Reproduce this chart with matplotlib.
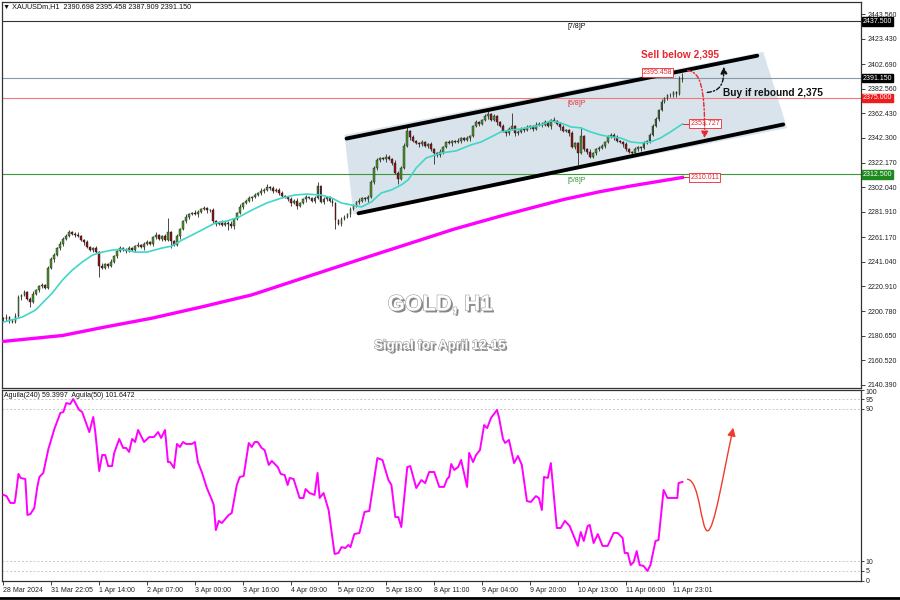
import matplotlib
matplotlib.use('Agg')
import matplotlib.pyplot as plt
from matplotlib.path import Path
from matplotlib.patches import FancyArrowPatch, Polygon
import matplotlib.patheffects as pe

plt.rcParams['font.family'] = ['Liberation Sans', 'DejaVu Sans']

# ---- data ----
first_open = 2195.0
closes = [
    2194, 2196, 2193, 2192, 2197, 2212, 2214, 2216, 2211, 2208,
    2215, 2218, 2221, 2222, 2220, 2236, 2243, 2247, 2252, 2256,
    2260, 2262, 2265, 2264, 2263, 2262, 2259, 2257, 2253, 2251,
    2252, 2249, 2238, 2236, 2239, 2238, 2241, 2246, 2250, 2252,
    2251, 2250, 2252, 2251, 2254, 2255, 2253, 2256, 2257, 2256,
    2261, 2263, 2260, 2262, 2259, 2265, 2258, 2255, 2262, 2268,
    2274, 2278, 2280, 2281, 2280, 2282, 2284, 2285, 2283, 2283,
    2274, 2272, 2273, 2271, 2273, 2272, 2270, 2276, 2281, 2286,
    2289, 2291, 2293, 2294, 2296, 2297, 2299, 2300, 2302, 2301,
    2299, 2300, 2297, 2295, 2294, 2292, 2289, 2291, 2287, 2289,
    2292, 2294, 2293, 2291, 2293, 2303, 2290, 2292, 2294, 2291,
    2289, 2275, 2272, 2276, 2278, 2280, 2284, 2287, 2290, 2291,
    2293, 2292, 2294, 2306, 2318, 2324, 2326, 2325, 2327, 2325,
    2322, 2314, 2309, 2318, 2336, 2348, 2343, 2340, 2338, 2337,
    2339, 2336, 2337, 2333, 2330, 2328, 2331, 2335, 2339, 2338,
    2340, 2339, 2340, 2342, 2341, 2342, 2344, 2352, 2355, 2354,
    2357, 2360, 2362, 2357, 2360, 2355, 2352, 2348, 2346, 2350,
    2352, 2346, 2347, 2350, 2349, 2351, 2352, 2350, 2353, 2354,
    2353, 2355, 2352, 2357, 2356, 2354, 2351, 2348, 2349, 2346,
    2335, 2338, 2330, 2344, 2333, 2331, 2327, 2330, 2333, 2334,
    2336, 2339, 2343, 2345, 2343, 2340, 2339, 2337, 2333, 2331,
    2330, 2333, 2335, 2334, 2338, 2340, 2345, 2352, 2358, 2365,
    2372, 2375, 2377, 2377, 2380, 2378, 2390.698, 2391.15,
]
wick_up = [
    1, 2, 1, 1, 2, 2, 1, 2, 1, 1, 2, 1, 1, 2, 1, 2, 2, 1, 1, 2,
    1, 2, 2, 1, 1, 2, 1, 1, 2, 1, 1, 2, 1, 2, 1, 1, 2, 1, 1, 2,
    1, 1, 2, 1, 1, 2, 1, 1, 2, 1, 1, 2, 1, 1, 2, 12, 1, 1, 2, 1,
    1, 2, 1, 1, 2, 1, 1, 2, 1, 1, 2, 1, 1, 2, 1, 1, 2, 1, 1, 2,
    1, 1, 2, 1, 1, 1, 2, 1, 3, 1, 2, 1, 1, 2, 1, 1, 2, 1, 2, 1,
    1, 2, 1, 1, 2, 3, 1, 2, 1, 1, 2, 1, 1, 2, 1, 1, 2, 1, 1, 2,
    1, 1, 2, 2, 1, 2, 1, 1, 2, 1, 1, 2, 1, 1, 2, 3, 1, 2, 1, 1,
    2, 1, 1, 2, 1, 1, 2, 1, 1, 2, 1, 1, 2, 1, 1, 2, 1, 1, 2, 1,
    1, 2, 3, 1, 2, 1, 1, 2, 1, 1, 11, 1, 2, 1, 1, 2, 1, 1, 2, 1,
    1, 2, 1, 1, 2, 1, 1, 2, 1, 1, 2, 1, 1, 7, 1, 1, 2, 1, 1, 2,
    1, 1, 2, 1, 1, 2, 1, 1, 2, 1, 1, 2, 1, 1, 2, 1, 1, 2, 1, 1,
    2, 1, 1, 2, 1, 1, 2, 4.31,
]
wick_dn = [
    1, 1, 2, 1, 1, 1, 2, 1, 1, 4, 1, 1, 2, 1, 1, 1, 1, 2, 1, 1,
    2, 1, 1, 1, 2, 1, 1, 2, 1, 1, 2, 1, 9, 1, 1, 2, 1, 1, 2, 1,
    1, 2, 1, 1, 2, 1, 1, 2, 1, 1, 2, 1, 1, 2, 1, 1, 6, 1, 1, 2,
    1, 1, 2, 1, 1, 2, 1, 1, 2, 1, 1, 2, 1, 1, 1, 5, 1, 2, 1, 1,
    2, 1, 1, 2, 1, 1, 1, 2, 1, 1, 2, 1, 1, 2, 1, 1, 2, 1, 3, 1,
    1, 2, 1, 1, 2, 1, 1, 2, 1, 1, 2, 7, 1, 2, 1, 1, 2, 1, 1, 2,
    1, 1, 2, 1, 1, 2, 1, 1, 2, 1, 2, 1, 4, 1, 1, 1, 2, 1, 1, 2,
    1, 1, 2, 1, 9, 1, 1, 2, 1, 1, 2, 1, 1, 2, 1, 1, 2, 1, 1, 2,
    1, 1, 2, 1, 1, 2, 1, 1, 2, 1, 1, 2, 1, 1, 2, 1, 1, 2, 1, 1,
    2, 1, 1, 2, 1, 1, 2, 1, 1, 2, 1, 2, 10, 1, 1, 2, 1, 1, 2, 1,
    1, 2, 1, 1, 2, 1, 1, 2, 1, 1, 2, 1, 1, 2, 1, 1, 2, 1, 1, 2,
    1, 1, 2, 1, 1, 2, 1, 2.79,
]

# moving averages (bar index, price)
ma_fast_x = [0, 6.3, 10.7, 13, 16.3, 19.7, 23, 26.3, 29.7, 33, 36.3, 39.7, 44, 48, 53, 56.3,
             59.7, 63, 66.3, 70.7, 74.7, 78.7, 83, 88, 93, 97.3, 101.3, 106.3, 109.7, 113,
             116.3, 119.7, 123, 126.3, 129.7, 133, 135.3, 138, 141.3, 146.3, 151.3, 156.3,
             159.7, 163, 166.3, 169.7, 173, 176.3, 179.7, 183, 186.3, 189.7, 193, 196.3,
             199.7, 203, 206.3, 209.7, 213, 216.3, 219.7, 223, 227]
ma_fast_v = [2191.8, 2195.9, 2201.6, 2207.3, 2215.5, 2226.1, 2234.3, 2240.8, 2246.5, 2249.0,
             2250.6, 2251.4, 2249.0, 2249.0, 2252.3, 2253.9, 2258.8, 2262.9, 2267.0, 2272.7,
             2274.4, 2277.6, 2283.3, 2289.1, 2293.2, 2295.6, 2296.4, 2295.6, 2293.2, 2289.1,
             2287.5, 2285.9, 2290.0, 2297.3, 2299.8, 2303.9, 2308.0, 2317.8, 2325.9, 2330.0,
             2331.7, 2336.6, 2339.0, 2343.1, 2347.2, 2348.8, 2349.7, 2351.3, 2352.9, 2356.2,
             2354.6, 2351.3, 2350.5, 2347.2, 2344.7, 2343.1, 2342.3, 2339.0, 2338.2, 2339.0,
             2342.3, 2347.2, 2353.727]
ma_slow_x = [0, 19.7, 33, 49.7, 66.3, 83, 99.7, 119.7, 150.7, 166.3, 176.3, 187.3, 199.7,
             209.7, 227]
ma_slow_v = [2176.0, 2180.8, 2187.3, 2195.0, 2204.2, 2214.0, 2227.4, 2243.4, 2267.8, 2278.5,
             2285.0, 2292.0, 2298.5, 2303.0, 2310.011]

# oscillator (bar index, value)
ind_x = [0, 1, 2.3, 3.7, 4, 5, 5.7, 7.3, 8, 9, 10.3, 11.3, 12, 13.3, 15, 17, 19, 20, 21, 22.3,
         23.3, 25.3, 26.3, 28.7, 30, 30.7, 32, 33, 34, 35, 36.3, 37, 38.7, 40, 41, 42, 43, 44,
         45, 47, 48.7, 50.3, 51.7, 52.7, 54, 55, 55.7, 57, 58, 59, 60, 61, 63, 64, 65, 66.3,
         68, 69.7, 70.3, 71, 72, 73, 75.3, 76.3, 78, 79, 80.3, 82, 83, 84, 85, 86.3, 87.3,
         88.7, 89.7, 91.7, 92.7, 94, 95, 95.7, 97, 99, 100.3, 101, 102.3, 104, 105, 105.7,
         107, 108.7, 110.7, 112, 113, 114.3, 115.3, 116, 117.3, 119, 120.7, 122.3, 125,
         126.7, 128.7, 129.7, 131, 132, 133, 135, 136, 138, 139.7, 141, 142.3, 144, 145.7,
         147.3, 148.3, 149, 149.7, 150.7, 152, 153, 155, 155.7, 157, 158, 159.3, 160.7,
         161.7, 163, 165, 165.7, 167, 167.7, 169, 170.7, 172, 173.3, 175, 176.3, 178, 179,
         180, 180.7, 182, 183, 185, 186.3, 187.7, 189.3, 192, 193, 194, 195.3, 196, 197.3,
         198.7, 200.3, 202, 204, 205.3, 207, 207.7, 208.7, 209.7, 210.7, 211.7, 212.7, 214,
         215.3, 216.3, 218, 219, 220.7, 222, 225.3, 225.7, 227]
ind_v = [44.8, 44.2, 40.6, 40.6, 43.2, 55.8, 53.7, 53.1, 34.3, 34.8, 38.0, 49.0, 54.2, 56.3,
         68.8, 79.3, 87.7, 88.2, 92.9, 92.4, 95.0, 89.3, 88.2, 77.7, 85.6, 77.7, 57.3, 65.7,
         65.7, 59.9, 59.9, 66.7, 74.1, 69.4, 69.4, 67.3, 74.1, 72.5, 78.8, 72.5, 75.1, 75.1,
         77.7, 74.6, 78.8, 62.0, 62.0, 58.9, 71.5, 69.9, 72.5, 71.5, 71.5, 72.5, 62.0, 56.8,
         48.4, 42.1, 39.5, 26.4, 31.2, 30.1, 34.3, 35.3, 50.0, 54.2, 54.7, 72.0, 69.9, 72.5,
         72.5, 69.4, 68.3, 60.5, 62.6, 59.4, 55.8, 55.2, 50.0, 53.7, 53.1, 43.2, 43.2, 47.9,
         45.8, 44.8, 56.3, 43.2, 45.8, 36.9, 13.9, 14.4, 17.5, 17.0, 18.6, 17.5, 24.3, 24.9,
         35.9, 36.4, 64.1, 63.1, 52.6, 50.0, 33.2, 33.2, 28.0, 59.4, 59.9, 48.4, 52.6, 51.0,
         56.8, 56.8, 49.0, 49.0, 53.1, 54.2, 61.0, 57.9, 59.4, 63.1, 49.0, 66.8, 62.0, 65.7,
         68.3, 81.4, 79.8, 85.1, 89.3, 85.1, 74.1, 72.0, 73.6, 61.5, 65.2, 60.5, 41.6, 41.1,
         44.2, 43.2, 36.9, 54.2, 53.7, 61.5, 27.5, 27.5, 31.2, 28.5, 18.1, 25.4, 20.7, 28.5,
         29.1, 19.6, 24.3, 18.1, 18.1, 24.9, 24.9, 22.3, 14.4, 14.4, 8.1, 9.7, 15.4, 8.1,
         7.6, 5.0, 8.1, 20.7, 21.2, 47.4, 43.2, 43.2, 51.0, 51.6]

price_ticks = [2443.560, 2423.430, 2402.690, 2382.560, 2362.430, 2342.300, 2322.170, 2302.040,
               2281.910, 2261.170, 2241.040, 2220.910, 2200.780, 2180.650, 2160.520, 2140.390]
ind_ticks = [100, 95, 90, 10, 5, 0]
ind_levels = [95, 90, 10, 5]
date_pos = [0, 16, 32, 48, 64, 80, 96, 112, 128, 144, 160, 176, 192, 208, 224]
date_labels = ["28 Mar 2024", "31 Mar 22:05", "1 Apr 14:00", "2 Apr 07:00", "3 Apr 00:00",
               "3 Apr 16:00", "4 Apr 09:00", "5 Apr 02:00", "5 Apr 18:00", "8 Apr 11:00",
               "9 Apr 04:00", "9 Apr 20:00", "10 Apr 13:00", "11 Apr 06:00", "11 Apr 23:01"]

# horizontal levels: price, line colour, label box colour
levels = [(2437.5, '#333333', 'black'), (2391.15, '#8899aa', 'black'),
          (2375.0, '#f07a7a', '#ee1c1c'), (2312.5, '#3a9a3a', '#1e8a1e')]
murrey = [("[7/8]P", 2433.5, 'black'), ("[6/8]P", 2370.5, '#e03030'), ("[5/8]P", 2307.5, '#2e962e')]

# channel
upper = ([114.7, 252.0], [2341.8, 2409.5])
lower = ([118.7, 260.7], [2280.7, 2353.3])
zone = [(114.0, 2344.7), (254.0, 2412.6), (262.0, 2350.4), (117.0, 2280.1)]

# ---- figure ----
fig = plt.figure(figsize=(9, 6), dpi=100)
ax = fig.add_axes([2 / 900, 1 - 388 / 600, 859 / 900, 386 / 600])
ax2 = fig.add_axes([2 / 900, 1 - 580.5 / 600, 859 / 900, 191 / 600])

xlim = (-0.5, 286.7)
ax.set_xlim(*xlim)
ax.set_ylim(2137.9, 2453.4)
ax2.set_xlim(*xlim)
ax2.set_ylim(0, 100)

ax.add_patch(Polygon(zone, closed=True, fc='#d9e3eb', ec='none', zorder=0))

for price, lc, bc in levels:
    ax.axhline(price, color=lc, lw=0.8, zorder=1)
    ax.text(1.002, price, f"{price:.3f}", transform=ax.get_yaxis_transform(), fontsize=5,
            color='white', ha='left', va='center', clip_on=False, zorder=10,
            bbox=dict(boxstyle='square,pad=0.12', fc=bc, ec=bc))

for txt, y, c in murrey:
    ax.text(188.5, y, txt, fontsize=5, color=c, ha='left', va='center')

# candles
opens = [first_open] + closes[:-1]
for i, (o, c) in enumerate(zip(opens, closes)):
    hi = max(o, c) + wick_up[i]
    lo = min(o, c) - wick_dn[i]
    ax.vlines(i, lo, hi, color='#2b2b2b', lw=0.6, zorder=3)
    col = '#4a962a' if c >= o else '#8e1414'
    h = abs(c - o) if abs(c - o) > 0.4 else 0.4
    ax.bar(i, h, bottom=min(o, c), width=0.62, color=col, edgecolor='#1a1a1a',
           linewidth=0.3, zorder=4)

ax.plot(ma_fast_x, ma_fast_v, color='#40d6c8', lw=1.2, zorder=5)
ax.plot(ma_slow_x, ma_slow_v, color='#ff00ff', lw=2.4, zorder=5)

ax.plot(upper[0], upper[1], color='black', lw=2.8, solid_capstyle='round', zorder=6)
ax.plot(lower[0], lower[1], color='black', lw=2.8, solid_capstyle='round', zorder=6)

# price marker boxes
red = '#e8262e'
ax.text(218.6, 2396.0, "2395.458", fontsize=5, color=red, ha='center', va='center', zorder=8,
        bbox=dict(boxstyle='square,pad=0.15', fc='white', ec=red, lw=0.6))
for val in (2353.727, 2310.011):
    ax.plot([227.3, 229.7], [val, val], color=red, lw=0.7, zorder=7)
    ax.text(229.7, val, f"{val:.3f}", fontsize=5, color=red, ha='left', va='center', zorder=8,
            bbox=dict(boxstyle='square,pad=0.15', fc='white', ec=red, lw=0.6))

ax.text(226.3, 2410.5, "Sell below 2,395", fontsize=7.3, fontweight='bold', color=red,
        ha='center', va='center', zorder=9)
ax.text(240.7, 2379.0, "Buy if rebound 2,375", fontsize=7.3, fontweight='bold', color='#111111',
        ha='left', va='center', zorder=9)

# scenario arrows
sell_path = Path([(228.7, 2397.5), (232.8, 2396.0), (234.6, 2386.0), (234.4, 2342.0)],
                 [Path.MOVETO, Path.CURVE4, Path.CURVE4, Path.CURVE4])
ax.add_patch(FancyArrowPatch(path=sell_path, arrowstyle='-|>,head_length=0.5,head_width=0.25',
                             mutation_scale=8, color=red, lw=1.0, linestyle=(0, (3, 1.5, 1, 1.5)),
                             zorder=9))
buy_path = Path([(235.3, 2379.5), (239.5, 2380.5), (241.0, 2386.0), (240.8, 2400.5)],
                [Path.MOVETO, Path.CURVE4, Path.CURVE4, Path.CURVE4])
ax.add_patch(FancyArrowPatch(path=buy_path, arrowstyle='-|>,head_length=0.5,head_width=0.25',
                             mutation_scale=8, color='#111111', lw=1.0,
                             linestyle=(0, (3, 1.5, 1, 1.5)), zorder=9))

shadow = [pe.SimplePatchShadow(offset=(1.4, -1.4), shadow_rgbFace='#555555', alpha=0.7),
          pe.Stroke(linewidth=0.8, foreground='#9a9a9a'), pe.Normal()]
ax.text(0.51, 0.215, "GOLD, H1", transform=ax.transAxes, fontsize=16, fontweight='bold',
        color='white', ha='center', va='center', path_effects=shadow, zorder=9)
ax.text(0.51, 0.109, "Signal for April 12-15", transform=ax.transAxes, fontsize=9.5,
        fontweight='bold', color='white', ha='center', va='center', path_effects=shadow, zorder=9)

fig.text(3 / 900, 1 - 7 / 600, "\u25bc XAUUSDm,H1  2390.698 2395.458 2387.909 2391.150",
         fontsize=5.2, ha='left', va='center', color='#111111')

ax.yaxis.tick_right()
ax.set_yticks(price_ticks)
ax.set_yticklabels([f"{p:.3f}" for p in price_ticks])
ax.tick_params(axis='y', direction='out', length=3, width=0.6, labelsize=5, pad=1.5,
               colors='#222222')
ax.set_xticks([])

# oscillator panel
for lv in ind_levels:
    ax2.axhline(lv, color='#c8c8c8', lw=0.7, ls=(0, (2, 2)), zorder=1)
ax2.plot(ind_x, ind_v, color='#ff00ff', lw=1.4, zorder=3)
osc_path = Path([(228.7, 53.0), (232.8, 52.5), (233.2, 26.0), (235.4, 26.0),
                 (237.6, 26.0), (240.5, 55.0), (244.0, 80.0)],
                [Path.MOVETO, Path.CURVE4, Path.CURVE4, Path.CURVE4,
                 Path.CURVE4, Path.CURVE4, Path.CURVE4])
ax2.add_patch(FancyArrowPatch(path=osc_path, arrowstyle='-|>,head_length=0.6,head_width=0.3',
                              mutation_scale=8, color='#ee3b2b', lw=1.0, zorder=4))
ax2.text(0.002, 0.985, "Aguila(240) 59.3997  Aguila(50) 101.6472", transform=ax2.transAxes,
         fontsize=5, ha='left', va='top', color='#111111')

ax2.yaxis.tick_right()
ax2.set_yticks(ind_ticks)
ax2.set_yticklabels([str(t) for t in ind_ticks])
ax2.tick_params(axis='y', direction='out', length=2, width=0.6, labelsize=5, pad=1.5,
                colors='#222222')
ylabels = ax2.get_yticklabels()
ylabels[0].set_va('top')
ax2.set_xticks(date_pos)
ax2.set_xticklabels(date_labels, ha='left')
ax2.tick_params(axis='x', direction='out', length=3, width=0.6, labelsize=5, pad=1.5,
                colors='#222222')

for a in (ax, ax2):
    for s in a.spines.values():
        s.set_color('#333333')
        s.set_linewidth(0.9)

fig.add_artist(plt.Line2D([0, 1], [0.003, 0.003], transform=fig.transFigure, color='black', lw=2))

fig.savefig('out.png', dpi=100)
